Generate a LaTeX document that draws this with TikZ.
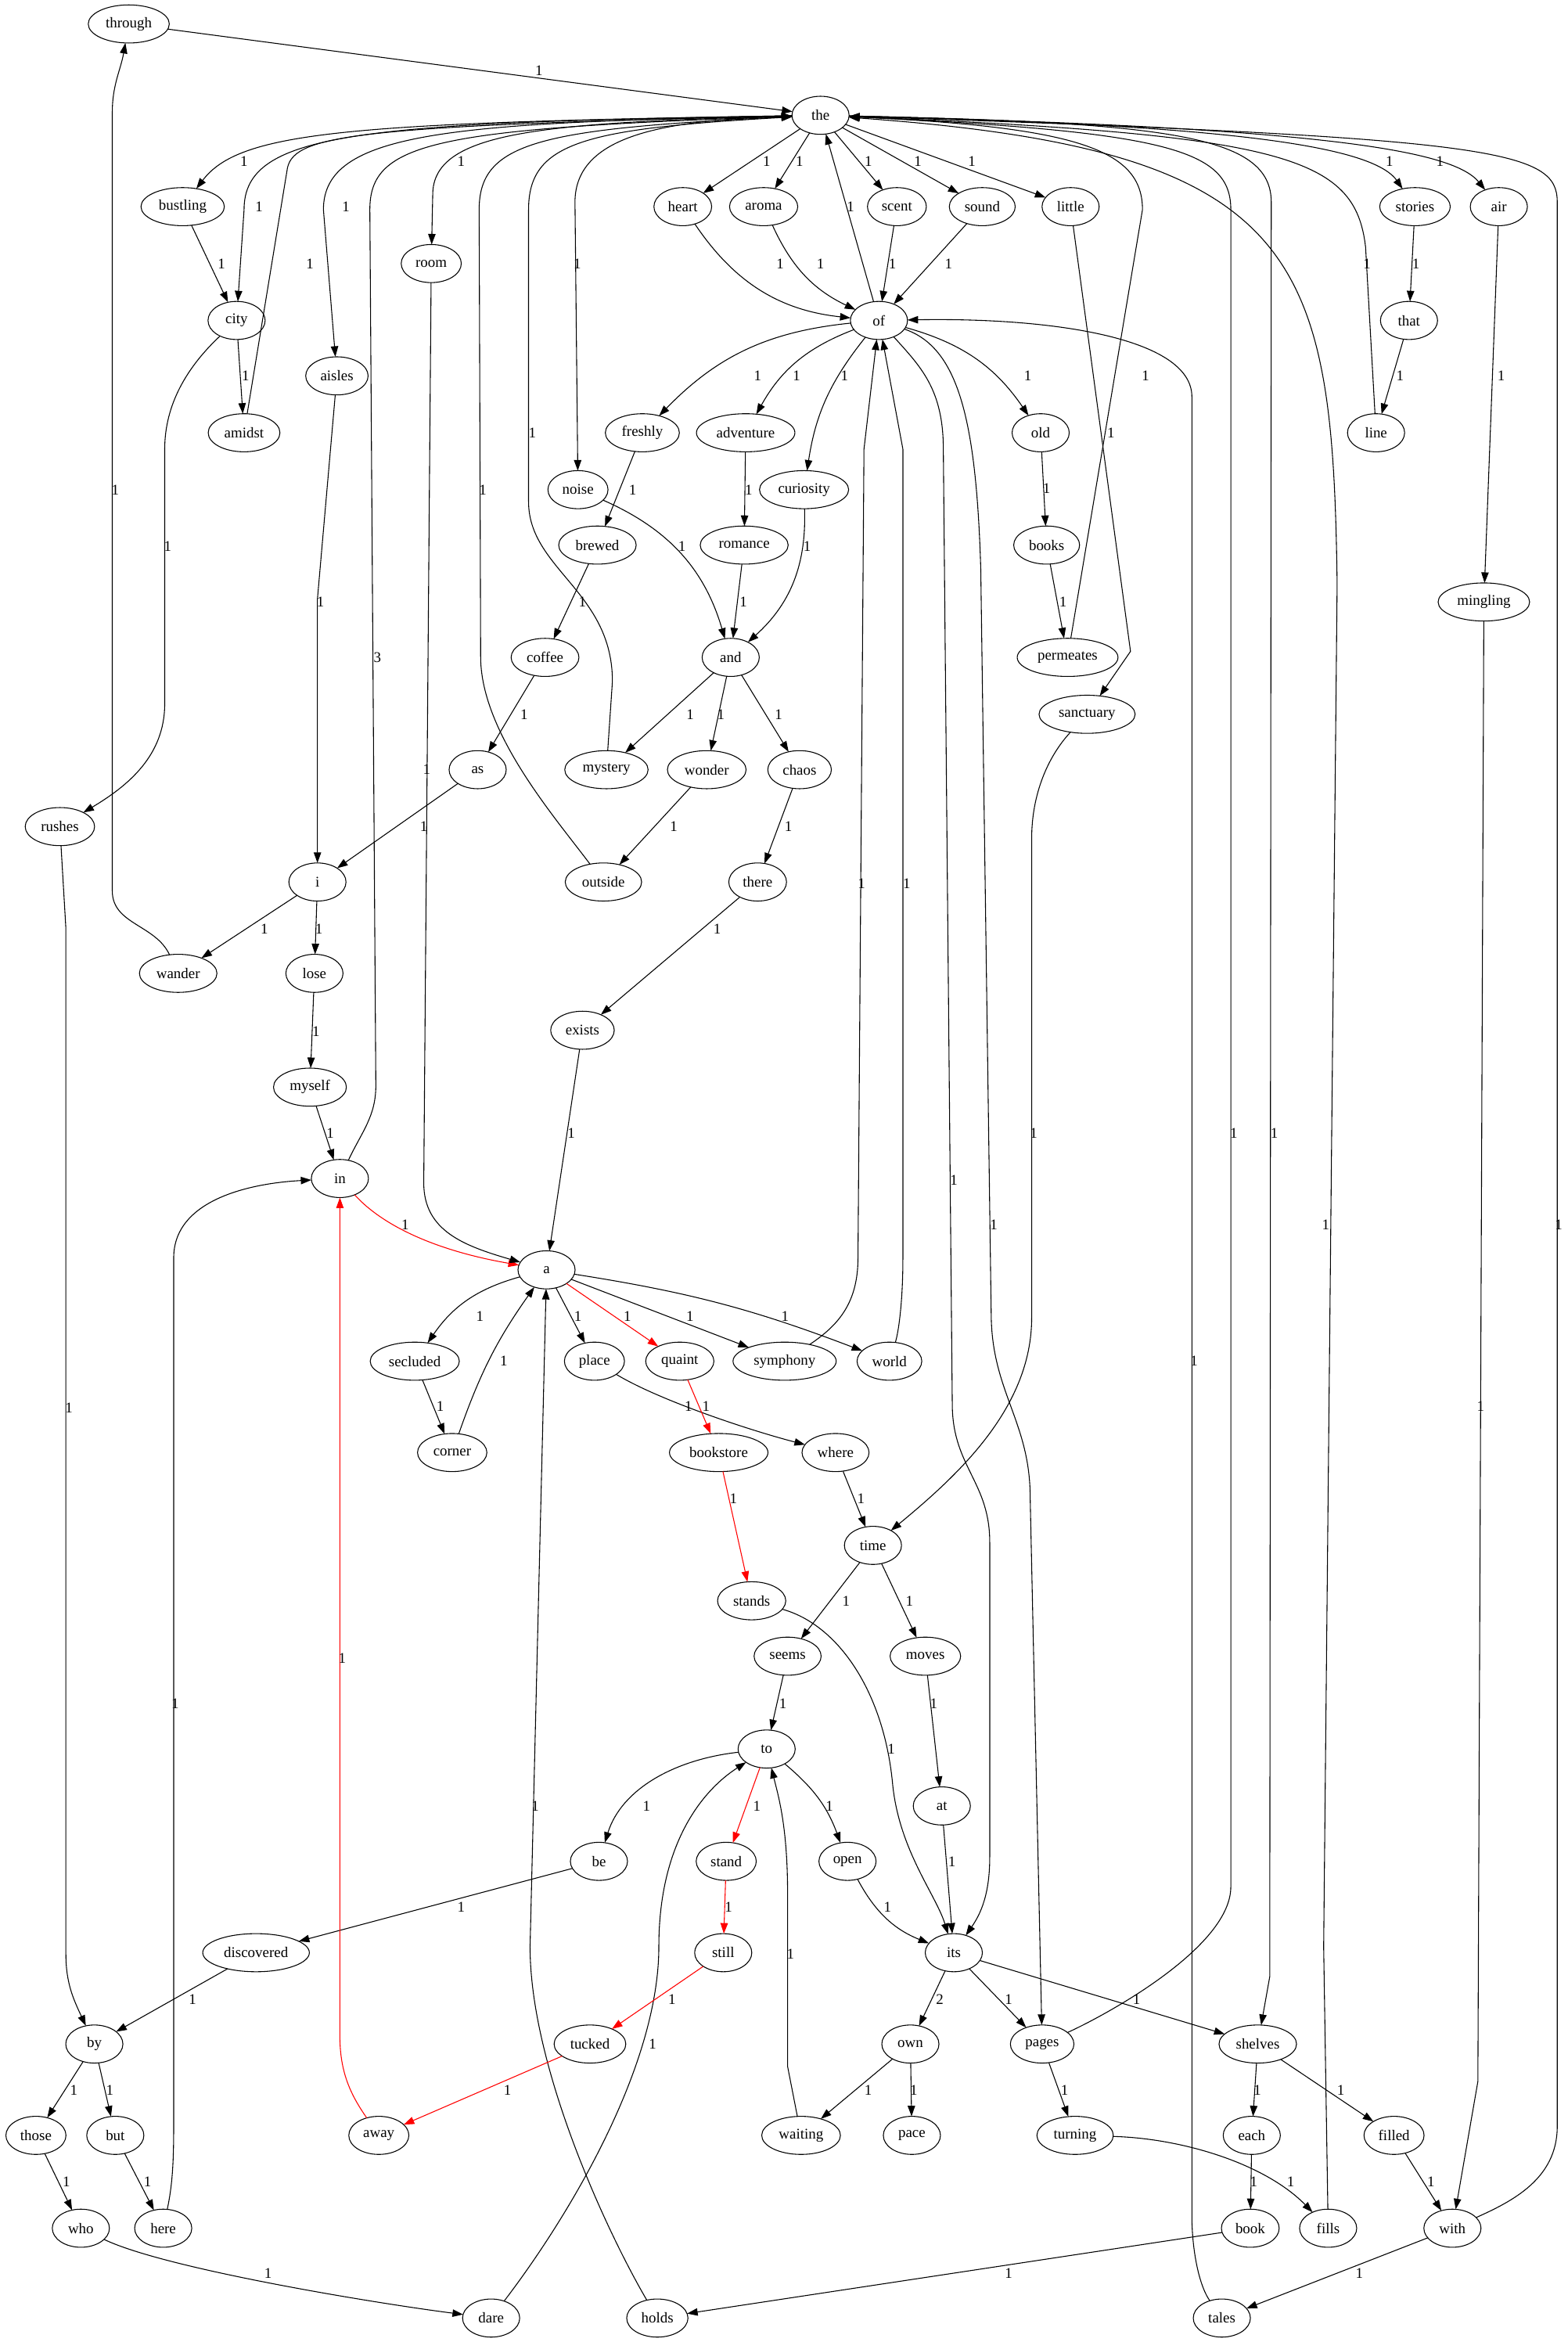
\documentclass[tikz,border=0pt]{standalone}
\usepackage{fontspec}
\setmainfont{Liberation Serif}
\usetikzlibrary{shapes.geometric, arrows.meta}

\begin{document}
\begin{tikzpicture}[x=1.415pt, y=1.415pt,
    word/.style={ellipse, draw, line width=0.8pt, inner xsep=5.3pt, inner ysep=2pt,
        minimum width=54pt, minimum height=36pt, outer sep=0pt,
        font=\fontsize{14pt}{17pt}\selectfont},
    link/.style={draw, line width=0.8pt, -{Triangle[length=10pt, width=7pt]}},
    redlink/.style={link, red},
    lbl/.style={inner sep=0pt, font=\fontsize{14pt}{17pt}\selectfont}]
    \useasboundingbox (0,0) rectangle (1047,-1564);

    % words, row by row
    \node[word] (through) at (86,-16) {through};
    \node[word] (the) at (548,-77) {the};
    \node[word] (bustling) at (122,-138) {bustling};
    \node[word] (heart) at (456,-138) {heart};
    \node[word] (aroma) at (510,-138) {aroma};
    \node[word] (scent) at (599,-138) {scent};
    \node[word] (sound) at (656,-138) {sound};
    \node[word] (little) at (715,-138) {little};
    \node[word] (stories) at (945,-138) {stories};
    \node[word] (air) at (1001,-138) {air};
    \node[word] (room) at (288,-176) {room};
    \node[word] (city) at (158,-214) {city};
    \node[word] (of) at (587,-214) {of};
    \node[word] (that) at (941,-214) {that};
    \node[word] (aisles) at (225,-251) {aisles};
    \node[word] (amidst) at (163,-289) {amidst};
    \node[word] (freshly) at (429,-289) {freshly};
    \node[word] (adventure) at (498,-289) {adventure};
    \node[word] (old) at (695,-289) {old};
    \node[word] (line) at (919,-289) {line};
    \node[word] (noise) at (386,-327) {noise};
    \node[word] (curiosity) at (537,-327) {curiosity};
    \node[word] (brewed) at (399,-364) {brewed};
    \node[word] (romance) at (497,-364) {romance};
    \node[word] (books) at (699,-364) {books};
    \node[word] (mingling) at (991,-402) {mingling};
    \node[word] (coffee) at (364,-439) {coffee};
    \node[word] (and) at (488,-439) {and};
    \node[word] (permeates) at (713,-439) {permeates};
    \node[word] (sanctuary) at (726,-477) {sanctuary};
    \node[word] (as) at (319,-514) {as};
    \node[word] (mystery) at (405,-514) {mystery};
    \node[word] (wonder) at (472,-514) {wonder};
    \node[word] (chaos) at (534,-514) {chaos};
    \node[word] (rushes) at (40,-552) {rushes};
    \node[word] (i) at (212,-589) {i};
    \node[word] (outside) at (403,-589) {outside};
    \node[word] (there) at (506,-589) {there};
    \node[word] (wander) at (119,-650) {wander};
    \node[word] (lose) at (210,-650) {lose};
    \node[word] (exists) at (389,-688) {exists};
    \node[word] (myself) at (207,-726) {myself};
    \node[word] (in) at (227,-787) {in};
    \node[word] (a) at (365,-848) {a};
    \node[word] (secluded) at (277,-909) {secluded};
    \node[word] (place) at (397,-909) {place};
    \node[word] (quaint) at (454,-909) {quaint};
    \node[word] (symphony) at (524,-909) {symphony};
    \node[word] (world) at (594,-909) {world};
    \node[word] (corner) at (302,-970) {corner};
    \node[word] (bookstore) at (480,-970) {bookstore};
    \node[word] (where) at (558,-970) {where};
    \node[word] (time) at (583,-1032) {time};
    \node[word] (stands) at (502,-1069) {stands};
    \node[word] (seems) at (526,-1106) {seems};
    \node[word] (moves) at (618,-1106) {moves};
    \node[word] (to) at (512,-1168) {to};
    \node[word] (at) at (629,-1206) {at};
    \node[word] (be) at (400,-1243) {be};
    \node[word] (stand) at (485,-1243) {stand};
    \node[word] (open) at (566,-1243) {open};
    \node[word] (discovered) at (171,-1304) {discovered};
    \node[word] (still) at (483,-1304) {still};
    \node[word] (its) at (637,-1304) {its};
    \node[word] (by) at (63,-1365) {by};
    \node[word] (tucked) at (394,-1365) {tucked};
    \node[word] (own) at (608,-1365) {own};
    \node[word] (pages) at (696,-1365) {pages};
    \node[word] (shelves) at (840,-1365) {shelves};
    \node[word] (those) at (24,-1426) {those};
    \node[word] (but) at (77,-1426) {but};
    \node[word] (away) at (253,-1426) {away};
    \node[word] (waiting) at (535,-1426) {waiting};
    \node[word] (pace) at (609,-1426) {pace};
    \node[word] (turning) at (718,-1426) {turning};
    \node[word] (each) at (836,-1426) {each};
    \node[word] (filled) at (931,-1426) {filled};
    \node[word] (who) at (54,-1488) {who};
    \node[word] (here) at (109,-1488) {here};
    \node[word] (book) at (835,-1488) {book};
    \node[word] (fills) at (887,-1488) {fills};
    \node[word] (with) at (970,-1488) {with};
    \node[word] (dare) at (328,-1548) {dare};
    \node[word] (holds) at (439,-1548) {holds};
    \node[word] (tales) at (816,-1548) {tales};

    % into and out of "the", left side
    \draw[link] (through) -- (the);
    \draw[link] (wander) to[out=115,in=-90] (75,-595) -- (75,-75) to[out=90,in=-100] (through);
    \draw[link] (the) .. controls (230,-82) and (160,-88) .. (bustling);
    \draw[link] (the) .. controls (240,-82) and (163,-88) .. (163,-140) -- (city);
    \draw[link] (amidst) -- (192,-112) .. controls (197,-90) and (240,-84) .. (the);
    \draw[link] (the) .. controls (300,-82) and (216,-88) .. (216,-140) -- (aisles);
    \draw[link] (in) to[out=65,in=-90] (251,-725) -- (247,-140) .. controls (247,-95) and (290,-86) .. (the);
    \draw[link] (the) .. controls (360,-82) and (289,-88) .. (289,-130) -- (room);
    \draw[link] (outside) .. controls (370,-545) and (322,-490) .. (321,-440) -- (320,-140) .. controls (320,-95) and (360,-86) .. (the);
    \draw[link] (mystery) -- (409,-455) .. controls (409,-395) and (353,-380) .. (353,-335) -- (353,-140) .. controls (353,-95) and (390,-86) .. (the);
    \draw[link] (the) .. controls (450,-80) and (384,-88) .. (384,-135) -- (noise);
    \draw[link] (the) -- (heart);
    \draw[link] (the) -- (aroma);
    \draw[link] (the) -- (scent);
    \draw[link] (the) -- (sound);
    \draw[link] (the) -- (little);
    \draw[link] (of) -- (the);

    % into and out of "the", right side
    \draw[link] (the) .. controls (800,-83) and (915,-95) .. (stories);
    \draw[link] (the) .. controls (880,-85) and (970,-100) .. (air);
    \draw[link] (line) -- (912,-165) .. controls (905,-105) and (860,-90) .. (the);
    \draw[link] (fills) -- (884,-1300) -- (893,-390) .. controls (890,-170) and (870,-100) .. (the);
    \draw[link] (pages) .. controls (740,-1345) and (822,-1300) .. (822,-1260) -- (822,-140) .. controls (822,-100) and (780,-88) .. (the);
    \draw[link] (with) .. controls (1010,-1470) and (1040,-1455) .. (1040,-1420) -- (1040,-135) .. controls (1040,-100) and (1000,-92) .. (the);
    \draw[link] (permeates) -- (763,-140) .. controls (763,-100) and (720,-85) .. (the);
    \draw[link] (the) .. controls (780,-82) and (849,-90) .. (849,-135) -- (848,-1320) -- (shelves);

    % around "of"
    \draw[link] (heart) to[bend right=25] (of);
    \draw[link] (aroma) to[bend right=20] (of);
    \draw[link] (scent) -- (of);
    \draw[link] (sound) -- (of);
    \draw[link] (of) to[bend right=20] (freshly);
    \draw[link] (of) to[bend right=20] (adventure);
    \draw[link] (of) to[bend right=15] (curiosity);
    \draw[link] (of) to[bend left=20] (old);
    \draw[link] (of) .. controls (615,-245) and (630,-260) .. (630,-300) -- (636,-940) .. controls (637,-980) and (661,-990) .. (661,-1030) -- (661,-1240) .. controls (661,-1265) and (655,-1278) .. (its);
    \draw[link] (of) .. controls (640,-232) and (652,-280) .. (655,-380) -- (662,-880) .. controls (663,-930) and (688,-950) .. (688,-1000) -- (pages);
    \draw[link] (symphony) .. controls (560,-885) and (573,-870) .. (573,-840) -- (577,-300) -- (of);
    \draw[link] (world) .. controls (600,-890) and (603,-870) .. (603,-840) -- (603,-300) -- (of);
    \draw[link] (tales) .. controls (800,-1525) and (796,-1500) .. (796,-1480) -- (796,-265) .. controls (796,-225) and (700,-212) .. (of);

    % upper middle
    \draw[link] (bustling) -- (city);
    \draw[link] (city) -- (amidst);
    \draw[link] (city) .. controls (125,-245) and (110,-270) .. (110,-300) -- (110,-470) .. controls (110,-505) and (85,-525) .. (rushes);
    \draw[link] (aisles) -- (212,-400) -- (i);
    \draw[link] (freshly) -- (brewed);
    \draw[link] (adventure) -- (romance);
    \draw[link] (romance) -- (and);
    \draw[link] (curiosity) to[bend left=25] (and);
    \draw[link] (noise) to[bend left=25] (and);
    \draw[link] (brewed) -- (coffee);
    \draw[link] (coffee) -- (as);
    \draw[link] (and) -- (mystery);
    \draw[link] (and) -- (wonder);
    \draw[link] (and) -- (chaos);
    \draw[link] (chaos) -- (there);
    \draw[link] (wonder) -- (outside);
    \draw[link] (there) -- (exists);
    \draw[link] (exists) -- (a);
    \draw[link] (as) -- (i);
    \draw[link] (i) -- (wander);
    \draw[link] (i) -- (lose);
    \draw[link] (lose) -- (myself);
    \draw[link] (myself) -- (in);
    \draw[link] (stories) -- (that);
    \draw[link] (that) -- (line);
    \draw[link] (air) -- (mingling);
    \draw[link] (old) -- (books);
    \draw[link] (books) -- (permeates);
    \draw[link] (little) -- (755,-435) -- (sanctuary);
    \draw[link] (sanctuary) .. controls (700,-505) and (689,-530) .. (689,-560) -- (689,-880) .. controls (689,-940) and (640,-985) .. (time);
    \draw[link] (mingling) -- (987,-1390) -- (with);

    % around "a"
    \draw[redlink] (in) .. controls (255,-818) and (290,-835) .. (a);
    \draw[link] (room) -- (283,-790) .. controls (283,-822) and (310,-832) .. (a);
    \draw[link] (a) to[bend right=20] (secluded);
    \draw[link] (secluded) -- (corner);
    \draw[link] (corner) to[bend left=8] (a);
    \draw[link] (holds) .. controls (405,-1490) and (354,-1380) .. (354,-1300) -- (a);
    \draw[link] (a) -- (place);
    \draw[redlink] (a) -- (quaint);
    \draw[link] (a) -- (symphony);
    \draw[link] (a) to[bend left=6] (world);
    \draw[link] (place) .. controls (440,-935) and (500,-955) .. (where);
    \draw[redlink] (quaint) -- (bookstore);
    \draw[redlink] (bookstore) -- (stands);
    \draw[link] (where) -- (time);
    \draw[link] (time) -- (seems);
    \draw[link] (time) -- (moves);
    \draw[link] (moves) -- (at);
    \draw[link] (at) -- (its);
    \draw[link] (stands) .. controls (560,-1085) and (590,-1130) .. (596,-1190) .. controls (600,-1235) and (625,-1265) .. (its);

    % around "to"
    \draw[link] (seems) -- (to);
    \draw[link] (to) .. controls (450,-1175) and (415,-1195) .. (be);
    \draw[redlink] (to) -- (stand);
    \draw[link] (to) to[bend left=15] (open);
    \draw[link] (open) to[bend right=20] (its);
    \draw[link] (waiting) -- (526,-1380) -- (526,-1265) .. controls (526,-1220) and (520,-1200) .. (to);
    \draw[link] (dare) .. controls (380,-1480) and (440,-1380) .. (440,-1300) .. controls (440,-1230) and (470,-1195) .. (to);

    % lower left
    \draw[link] (be) -- (discovered);
    \draw[link] (discovered) -- (by);
    \draw[link] (rushes) -- (44,-620) -- (44,-1305) to[out=-90,in=115] (by);
    \draw[link] (by) -- (those);
    \draw[link] (by) -- (but);
    \draw[link] (those) -- (who);
    \draw[link] (but) -- (here);
    \draw[link] (here) .. controls (115,-1460) and (116,-1445) .. (116,-1420) -- (116,-840) .. controls (116,-800) and (170,-790) .. (in);
    \draw[link] (who) .. controls (110,-1515) and (250,-1538) .. (dare);
    \draw[redlink] (stand) -- (still);
    \draw[redlink] (still) -- (tucked);
    \draw[redlink] (tucked) -- (away);
    \draw[redlink] (away) .. controls (235,-1400) and (227,-1385) .. (227,-1360) -- (in);

    % lower right
    \draw[link] (its) -- (own);
    \draw[link] (its) -- (pages);
    \draw[link] (its) -- (shelves);
    \draw[link] (own) -- (waiting);
    \draw[link] (own) -- (pace);
    \draw[link] (pages) -- (turning);
    \draw[link] (shelves) -- (each);
    \draw[link] (shelves) -- (filled);
    \draw[link] (each) -- (book);
    \draw[link] (filled) -- (with);
    \draw[link] (turning) .. controls (790,-1428) and (845,-1445) .. (fills);
    \draw[link] (book) -- (holds);
    \draw[link] (with) -- (tales);

    % weights
    \foreach \lx/\ly/\lt [count=\k] in {
        360/47/1, 163/108/1, 173/138/1, 231/138/1, 308/108/1, 512/108/1, 534/108/1,
        580/108/1, 613/108/1, 649/108/1, 568/138/1, 148/176/1, 207/176/1, 385.5/176/1,
        521/176/1, 548/176/1, 596/176/1, 633.5/176/1, 928/108/1, 961.7/108/1, 913/176/1,
        945.6/176/1, 164/251/1, 506/251/1, 532/251/1, 564/251/1, 686.4/251/1, 765/251/1,
        935/251/1, 1002.5/251/1, 355.5/289/1, 742/289/1, 77/327/1, 322.5/327/1,
        422.5/327/1, 500/327/1, 699/326/1, 112/365/1, 455.5/365/1, 539/365/1,
        214/402/1, 389/402/1, 496.5/402/1, 710/402/1, 252/439/3, 350/477/1, 461/477/1,
        481.5/477/1, 520/477/1, 285/514/1, 283/552/1, 450/552/1, 526.5/552/1,
        575.4/590/1, 605.5/590/1, 176.6/620.5/1, 213/620.5/1, 479/620.5/1, 211/689/1,
        381.5/757/1, 220.6/757/1, 690.4/757/1, 824/757/1, 851/757/1, 637/788/1,
        663.7/818/1, 885.4/818/1, 1041/818/1, 270.6/818/1, 320.5/879/1, 386/879/1,
        419/879/1, 460.8/879/1, 524.3/879/1, 336.5/909/1, 797.5/909/1, 294/939.4/1,
        459.8/939.4/1, 471.5/939.4/1, 46/940/1, 988.8/939.4/1, 489.8/1000.7/1,
        575/1000.7/1, 565/1069.4/1, 607.4/1069.4/1, 228.6/1107.5/1, 117/1137.6/1,
        522.8/1137.6/1, 623.6/1137.6/1, 595.2/1167.8/1, 431.8/1206/1, 505.5/1206/1,
        554/1206/1, 357.5/1206/1, 635.7/1243.5/1, 308/1273.6/1, 486.5/1273.6/1,
        592.7/1273.6/1, 528/1304.7/1, 128.6/1335/1, 448.8/1335/1, 627.6/1335/2,
        673.6/1335/1, 759/1335/1, 435.8/1365/1, 49.3/1396/1, 73.3/1396/1,
        338.9/1396/1, 579.8/1396/1, 610.3/1396/1, 711/1396/1, 839.8/1396/1,
        895.4/1396/1, 44.3/1457/1, 98.6/1457/1, 837.3/1457/1, 862/1457/1,
        955.7/1457/1, 179/1518/1, 673.6/1518/1, 907.9/1518/1}
        \node[lbl] (w\k) at (\lx,-\ly) {\lt};
\end{tikzpicture}
\end{document}
